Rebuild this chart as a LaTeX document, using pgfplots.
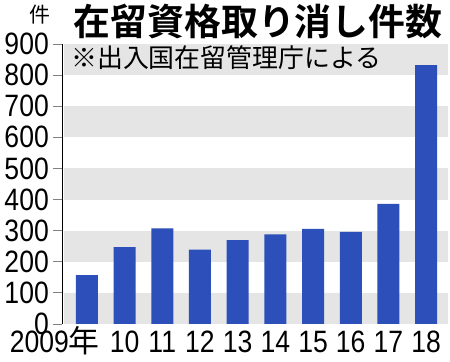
\documentclass[border=0pt]{standalone}
\usepackage{pgfplots}
\pgfplotsset{compat=1.18}
\usepackage{fontspec}
\setmainfont{Liberation Sans}
\newfontfamily\cjk{Noto Sans CJK JP}[BoldFont={Noto Sans CJK JP Bold}]
\newfontfamily\numf{Liberation Sans}[FakeStretch=0.86]
\definecolor{barblue}{HTML}{2C4FB9}
\definecolor{band}{HTML}{E5E5E5}
\begin{document}
\begin{tikzpicture}
\useasboundingbox (0,0) rectangle (450bp,362bp);
\begin{axis}[
  at={(62bp,38bp)}, anchor=south west,
  scale only axis, width=386bp, height=280bp,
  xmin=-0.66, xmax=9.58, ymin=0, ymax=900,
  axis x line*=bottom, axis y line*=left,
  x axis line style={draw=none},
  xtick={0,...,9},
  xticklabels={{\makebox[26bp][r]{2009\smash{\cjk 年}}},10,11,12,13,14,15,16,17,18},
  xtick style={draw=none},
  ytick={0,100,...,900},
  tick align=outside,
  major tick length=9bp,
  y axis line style={line width=1pt},
  ytick style={line width=1pt},
  ticklabel style={font=\fontsize{31}{31}\numf},
  /pgf/number format/assume math mode=true,
  yticklabel style={inner sep=0pt, xshift=-4bp},
  xticklabel style={inner sep=0pt, yshift=2bp},
  ybar, bar width=22bp,
  clip=false,
]
\fill[band] (axis cs:-0.6,0) rectangle (axis cs:9.58,100);
\fill[band] (axis cs:-0.6,200) rectangle (axis cs:9.58,300);
\fill[band] (axis cs:-0.6,400) rectangle (axis cs:9.58,500);
\fill[band] (axis cs:-0.6,600) rectangle (axis cs:9.58,700);
\fill[band] (axis cs:-0.6,800) rectangle (axis cs:9.58,900);
\addplot[fill=barblue, draw=none] coordinates {
(0,157) (1,247) (2,307) (3,239) (4,270) (5,288) (6,306) (7,296) (8,386) (9,832)
};
\end{axis}
\node[font=\cjk\bfseries\fontsize{37}{37}\selectfont, inner sep=0pt] at (258bp,341bp) {在留資格取り消し件数};
\node[font=\cjk\fontsize{21}{21}\selectfont, inner sep=0pt] at (40bp,347bp) {件};
\node[font=\cjk\fontsize{26}{26}\selectfont, inner sep=0pt, anchor=west] at (71bp,304bp) {※出入国在留管理庁による};
\end{tikzpicture}
\end{document}
